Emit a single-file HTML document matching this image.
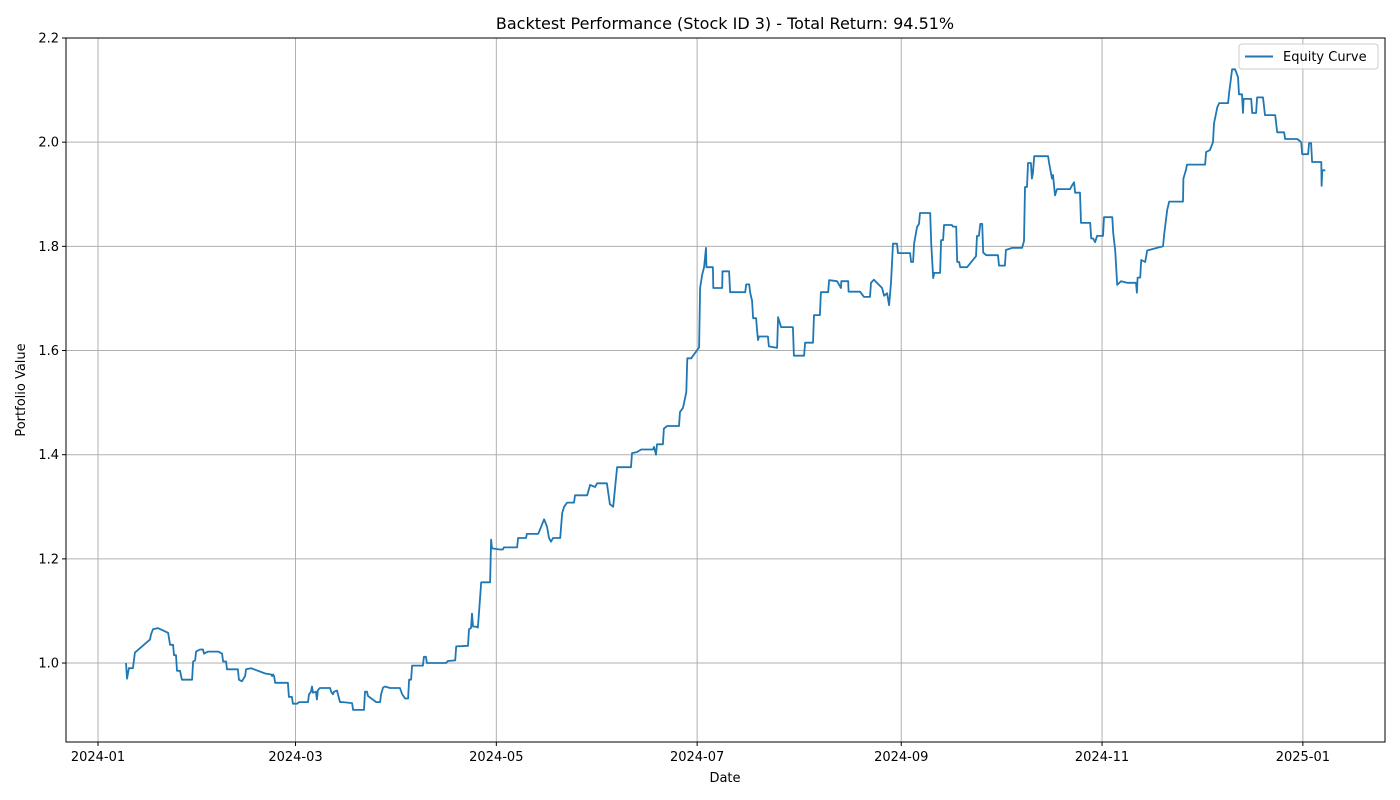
<!DOCTYPE html>
<html><head><meta charset="utf-8"><style>
html,body{margin:0;padding:0;background:#fff;}
svg{display:block;font-family:"DejaVu Sans","Liberation Sans",sans-serif;}
</style></head><body>
<svg id="chart" width="1400" height="800" viewBox="0 0 1400 800" xmlns="http://www.w3.org/2000/svg">
<rect x="0" y="0" width="1400" height="800" fill="#fff"/>
<text x="725" y="29" font-size="16" text-anchor="middle" fill="#000">Backtest Performance (Stock ID 3) - Total Return: 94.51%</text>
<g id="grid"></g>
<g id="series"></g>
<rect x="66" y="38" width="1319" height="704" fill="none" stroke="#000" stroke-width="1"/>
<g id="ticks"></g>
<text x="725" y="782" font-size="13" text-anchor="middle">Date</text>
<text x="25" y="390" font-size="13" text-anchor="middle" transform="rotate(-90 25 390)">Portfolio Value</text>
<g>
<rect x="1239" y="44" width="139" height="25" rx="3" fill="#fff" fill-opacity="0.8" stroke="#ccc"/>
<line x1="1245" y1="56.5" x2="1273" y2="56.5" stroke="#1f77b4" stroke-width="2"/>
<text x="1283" y="61" font-size="13">Equity Curve</text>
</g>
</svg>
<script>
const days = [
8.5,8.8,9.4,10.6,11.2,15.8,16.1,16.7,18.2,21.3,
21.9,22.8,23.1,23.7,24.0,24.9,25.5,28.6,28.9,29.5,
29.8,31.0,31.9,32.2,33.4,36.5,37.7,38.0,38.9,39.2,
42.5,42.8,43.7,44.7,45.0,46.5,50.8,52.6,52.9,53.2,
53.5,53.8,57.7,58.0,58.9,59.2,60.5,61.1,63.8,64.1,
64.7,65.0,65.3,66.2,66.5,66.8,67.4,70.5,70.8,71.4,
71.7,72.6,73.5,74.4,77.2,77.5,80.8,81.1,81.7,82.0,
84.5,85.7,86.0,86.6,87.2,88.7,91.7,92.4,93.3,94.2,
94.5,95.1,95.4,98.7,99.0,99.6,99.9,105.7,106.3,108.5,
108.8,112.4,112.7,113.3,113.6,113.9,114.8,115.4,116.4,119.1,
119.4,119.7,122.1,123.0,123.3,127.3,127.6,130.0,130.3,133.7,
134.0,135.5,136.4,137.0,137.6,138.2,140.4,141.0,141.6,142.5,
144.6,144.9,148.6,149.5,151.0,151.6,154.6,155.5,156.5,157.7,
161.9,162.2,163.7,165.0,168.6,168.9,169.5,169.8,171.6,171.9,
172.9,176.5,176.8,177.7,178.7,179.0,180.2,182.6,182.9,183.5,
184.1,184.7,184.8,186.8,186.9,189.6,189.7,191.7,192.0,196.6,
196.9,197.8,198.1,198.7,199.0,199.9,200.2,200.5,200.8,203.5,
203.8,206.3,206.6,207.5,211.1,211.4,214.5,214.8,217.2,217.5,
219.3,219.6,221.8,222.1,224.5,225.7,225.8,227.9,228.0,231.5,
232.7,234.5,234.8,235.7,238.2,238.8,239.7,240.3,240.9,241.5,
242.7,243.0,246.7,247.0,247.6,247.9,248.8,249.4,249.7,252.8,
253.1,253.7,254.0,255.8,256.1,256.7,257.0,259.4,259.7,260.7,
261.0,261.6,261.9,264.0,266.7,267.0,267.6,268.0,268.6,268.9,
269.8,273.4,273.7,275.5,275.8,277.7,280.7,281.3,281.6,282.2,
282.5,283.4,283.7,284.0,284.4,288.6,288.9,289.8,290.1,290.7,
291.3,295.3,295.9,296.5,296.8,298.3,298.6,301.4,301.7,302.3,
302.9,303.5,305.0,305.3,305.6,308.1,308.4,309.0,309.6,310.8,
312.6,315.3,315.6,315.8,316.6,316.9,318.1,318.7,323.5,323.9,
324.8,325.4,329.6,329.7,330.5,330.8,336.3,336.6,337.8,338.7,
339.0,340.0,340.6,343.3,343.6,344.5,345.4,346.3,346.6,347.5,
347.8,348.0,350.3,350.6,351.8,352.1,353.9,354.5,357.6,358.2,
360.3,360.6,364.3,365.5,365.8,367.6,367.9,368.5,368.8,371.6,
371.7,371.9,372.8];
const values = [
1.000,0.970,0.990,0.990,1.020,1.045,1.055,1.065,1.067,1.058,
1.035,1.035,1.015,1.015,0.985,0.985,0.968,0.968,1.003,1.005,
1.022,1.026,1.026,1.018,1.022,1.022,1.018,1.003,1.003,0.988,
0.988,0.968,0.965,0.975,0.988,0.990,0.980,0.978,0.975,0.978,
0.975,0.962,0.962,0.935,0.935,0.922,0.922,0.925,0.925,0.940,
0.945,0.955,0.943,0.945,0.930,0.948,0.952,0.952,0.945,0.940,
0.945,0.947,0.925,0.925,0.923,0.910,0.910,0.945,0.945,0.937,
0.925,0.925,0.940,0.953,0.955,0.952,0.952,0.940,0.932,0.932,
0.968,0.968,0.995,0.995,1.012,1.012,1.000,1.000,1.004,1.005,
1.032,1.033,1.065,1.067,1.095,1.070,1.070,1.068,1.155,1.155,
1.237,1.220,1.218,1.218,1.222,1.222,1.240,1.240,1.248,1.248,
1.252,1.276,1.262,1.240,1.233,1.240,1.240,1.288,1.300,1.308,
1.308,1.322,1.322,1.342,1.338,1.345,1.345,1.305,1.300,1.376,
1.376,1.403,1.405,1.410,1.410,1.415,1.400,1.420,1.420,1.450,
1.455,1.455,1.482,1.490,1.520,1.585,1.585,1.606,1.720,1.745,
1.760,1.797,1.760,1.760,1.720,1.720,1.752,1.752,1.712,1.712,
1.727,1.727,1.712,1.695,1.662,1.662,1.638,1.620,1.627,1.627,
1.608,1.605,1.664,1.645,1.645,1.590,1.590,1.615,1.615,1.668,
1.668,1.712,1.712,1.735,1.733,1.720,1.733,1.733,1.713,1.713,
1.703,1.703,1.730,1.736,1.720,1.705,1.710,1.687,1.730,1.805,
1.805,1.787,1.787,1.770,1.770,1.805,1.837,1.843,1.864,1.864,
1.806,1.739,1.749,1.749,1.812,1.812,1.841,1.841,1.838,1.838,
1.770,1.770,1.760,1.760,1.781,1.820,1.820,1.843,1.843,1.788,
1.783,1.783,1.763,1.763,1.793,1.797,1.797,1.810,1.914,1.914,
1.960,1.960,1.930,1.940,1.973,1.973,1.960,1.930,1.937,1.898,
1.910,1.910,1.917,1.923,1.903,1.903,1.845,1.845,1.815,1.815,
1.808,1.820,1.820,1.820,1.856,1.856,1.826,1.792,1.726,1.733,
1.730,1.730,1.711,1.740,1.740,1.774,1.770,1.792,1.800,1.825,
1.870,1.886,1.886,1.930,1.947,1.957,1.957,1.981,1.985,2.000,
2.036,2.067,2.075,2.075,2.094,2.140,2.140,2.125,2.092,2.092,
2.056,2.083,2.083,2.056,2.056,2.086,2.086,2.052,2.052,2.019,
2.019,2.006,2.006,2.000,1.977,1.977,1.998,1.998,1.962,1.962,
1.916,1.946,1.946];
const xTickDays = [0,60,121,182,244,305,366];
const xTickLabels = ["2024-01","2024-03","2024-05","2024-07","2024-09","2024-11","2025-01"];
const yTickValues = [1.0,1.2,1.4,1.6,1.8,2.0,2.2];
const yTickLabels = ["1.0","1.2","1.4","1.6","1.8","2.0","2.2"];

const L=66,R=1385,T=38,B=742;
const dMin=-9.72,dMax=390.95,vMin=0.8484,vMax=2.2;
function xs(d){return L+(d-dMin)/(dMax-dMin)*(R-L);}
function ys(v){return B-(v-vMin)/(vMax-vMin)*(B-T);}
const NS="http://www.w3.org/2000/svg";
const grid=document.getElementById('grid'),ticks=document.getElementById('ticks'),series=document.getElementById('series');
function mk(tag,attrs,parent){const e=document.createElementNS(NS,tag);for(const k in attrs)e.setAttribute(k,attrs[k]);parent.appendChild(e);return e;}
xTickDays.forEach((d,i)=>{
  const x=xs(d);
  const g=mk('line',{x1:x,y1:T,x2:x,y2:B,stroke:'#b0b0b0','stroke-width':1},grid);
  
  
  const t=mk('line',{x1:x,y1:B,x2:x,y2:B+4,stroke:'#000'},ticks);
  
  
  const tx=mk('text',{x:x,y:B+19,'font-size':13,'text-anchor':'middle'},ticks);
  tx.textContent=xTickLabels[i];
  
  
});
yTickValues.forEach((v,i)=>{
  const y=ys(v);
  const g=mk('line',{x1:L,y1:y,x2:R,y2:y,stroke:'#b0b0b0','stroke-width':1},grid);
  
  
  const t=mk('line',{x1:L-4,y1:y,x2:L,y2:y,stroke:'#000'},ticks);
  
  
  const tx=mk('text',{x:L-7,y:y+4.5,'font-size':13,'text-anchor':'end'},ticks);
  tx.textContent=yTickLabels[i];
  
  
});
const n=Math.min(days.length,values.length);
const pts=[];
for(let i=0;i<n;i++)pts.push(xs(days[i]).toFixed(1)+','+ys(values[i]).toFixed(1));
const line=mk('polyline',{points:pts.join(' '),fill:'none',stroke:'#1f77b4','stroke-width':1.8,'stroke-linejoin':'round'},series);


</script>
</body></html>
